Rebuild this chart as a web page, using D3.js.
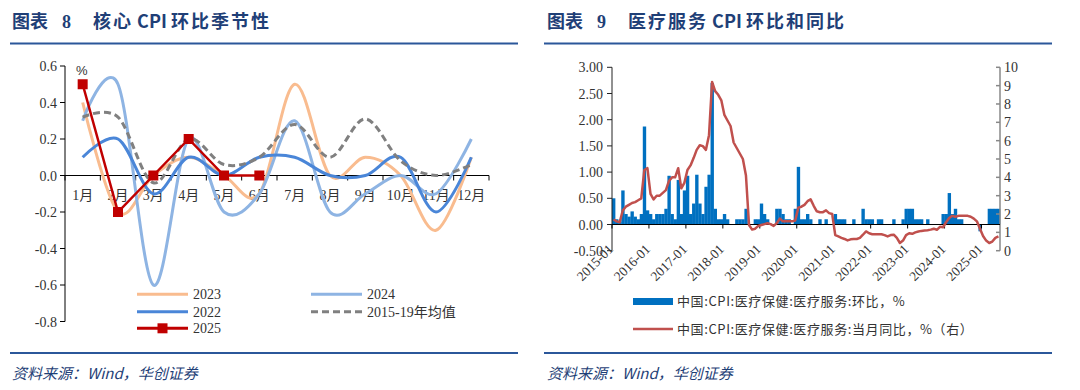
<!DOCTYPE html>
<html><head><meta charset="utf-8">
<script src="https://cdn.jsdelivr.net/npm/d3@7"></script>
<style>body{margin:0;background:#fff;} svg{display:block}</style>
</head><body>
<svg id="c" width="1080" height="390"></svg>
<script>
// ---------- Left chart data: core CPI MoM seasonality ----------
const months = ["1月","2月","3月","4月","5月","6月","7月","8月","9月","10月","11月","12月"];
const s2023 = [0.4,-0.2,0.0,0.1,0.0,-0.1,0.5,0.0,0.1,0.0,-0.3,0.1];
const s2024 = [0.3,0.5,-0.6,0.2,-0.2,-0.1,0.3,-0.2,-0.1,0.0,-0.1,0.2];
const s2022 = [0.1,0.2,-0.1,0.1,0.0,0.1,0.1,0.0,0.0,0.1,-0.2,0.1];
const avg1519 = [0.32,0.32,-0.04,0.2,0.06,0.1,0.28,0.1,0.31,0.08,0.0,0.06];
const s2025 = [0.5,-0.2,0.0,0.2,0.0,0.0];
const leftTicks = [0.6,0.4,0.2,0.0,-0.2,-0.4,-0.6,-0.8];

// ---------- Right chart data: medical services CPI ----------
const startYear = 2015, nMonths = 126; // 2015-01 .. 2025-06
const dates = [];
for (let i = 0; i < nMonths; i++) {
  const yy = startYear + Math.floor(i / 12), mm = (i % 12) + 1;
  dates.push(yy + "-" + (mm < 10 ? "0" + mm : mm));
}
const momBars = [
  0.5,0.1,0.05,0.65,0.2,0.15,0.25,0.15,0.1,0.2,1.87,0.27,
  0.2,0.1,0.2,0.2,0.2,0.3,0.93,0.2,0.1,0.85,0.2,0.65,
  0.93,0.2,0.4,0.95,0.4,0.2,0.72,0.95,2.7,0.3,0.1,0.1,
  0.2,0.1,0,0,0.1,0.1,0.1,0.3,0,0,0.1,0.1,
  0.4,0.2,0.1,0,0,0.3,0.3,0.2,0.1,0.1,0,0.3,
  1.1,0.1,0.1,0.2,0.1,0,0,0.1,0,0.1,0,0,
  0.2,0.1,0.1,0.1,0,0,0.1,0,0,0.3,0.1,0.1,
  0.1,0,0.1,0.1,0,0,0,0.1,0,0,0.1,0.3,
  0.3,0.3,0.1,0.1,0.1,0,0.1,0,0,0,0,0.2,
  0.2,0.6,0.2,0.3,0.1,0.1,0,0,0,0,0,-0.13,
  0,0,0.3,0.3,0.3,0.3
];
const yoyLine = [
  1.7,1.6,1.55,2.2,2.4,2.5,2.6,2.65,2.75,2.85,4.4,4.5,
  3.1,2.8,3.0,3.0,3.15,3.3,3.8,4.0,4.0,4.5,3.4,3.7,
  4.4,4.65,5.05,5.5,5.75,5.7,5.5,6.3,9.2,8.7,8.5,8.2,
  7.4,7.1,6.8,5.9,5.6,5.3,5.0,4.1,1.4,1.15,1.2,1.35,
  1.4,1.45,1.5,1.45,1.35,1.5,1.75,1.6,1.6,1.6,1.6,1.65,
  2.35,2.4,2.5,2.7,2.8,2.45,2.15,2.1,2.1,2.2,2.05,2.0,
  0.85,0.78,0.7,0.64,0.56,0.62,0.64,0.64,0.7,0.87,1.05,0.95,
  0.9,0.9,0.9,0.9,0.85,0.78,0.85,0.87,0.7,0.42,0.55,0.85,
  0.95,0.92,1.0,1.05,1.08,1.1,1.12,1.15,1.2,1.14,1.3,1.28,
  1.55,1.78,1.9,1.85,1.9,1.9,1.9,1.9,1.85,1.75,1.6,1.2,
  0.8,0.55,0.42,0.5,0.7,0.78
];
const yearTicks = ["2015-01","2016-01","2017-01","2018-01","2019-01","2020-01","2021-01","2022-01","2023-01","2024-01","2025-01"];
const leftRTicks = [3.0,2.5,2.0,1.5,1.0,0.5,0.0,-0.5];
const rightRTicks = [0,1,2,3,4,5,6,7,8,9,10];

// ---------- Styles ----------
const serif = "'Liberation Serif','Times New Roman','Noto Sans CJK SC',serif";
const cjk = "'Noto Sans CJK SC','Noto Sans',sans-serif";
const navy = "#1F3F77";
const sepColor = "#2B579A";
const txt = "#333";

const svg = d3.select("#c");

// ---------- Titles, separators, sources ----------
function header(x0, num, parts) {
  const t = svg.append("text").attr("x", x0).attr("y", 27.5)
    .attr("font-family", cjk).attr("font-weight", 700).attr("font-size", 18)
    .attr("fill", navy);
  t.append("tspan").text("图表");
  t.append("tspan").attr("x", x0 + 50).attr("font-family", serif).text(num);
  t.append("tspan").attr("x", x0 + 81).attr("letter-spacing", 2).text(parts[0]);
  t.append("tspan").attr("letter-spacing", 0).text(" CPI ");
  t.append("tspan").attr("letter-spacing", 2).text(parts[1]);
}
header(12, "8", ["核心", "环比季节性"]);
header(547, "9", ["医疗服务", "环比和同比"]);
[[10, 518], [544, 1052]].forEach(([a, b]) => {
  svg.append("line").attr("x1", a).attr("x2", b).attr("y1", 43.5).attr("y2", 43.5)
    .attr("stroke", sepColor).attr("stroke-width", 2);
  svg.append("line").attr("x1", a).attr("x2", b).attr("y1", 353).attr("y2", 353)
    .attr("stroke", sepColor).attr("stroke-width", 2);
});
[12, 547].forEach(x => {
  svg.append("text").attr("x", x).attr("y", 379).attr("font-family", cjk)
    .attr("font-style", "italic").attr("font-size", 15).attr("fill", navy)
    .text("资料来源：Wind，华创证券");
});

// ---------- Left chart ----------
const L = svg.append("g");
const xL = d3.scaleBand(months, [65, 489]);
const yL = d3.scaleLinear([-0.8, 0.6], [321.5, 66]);
const cx = (m) => xL(m) + xL.bandwidth() / 2;

// y axis
L.append("line").attr("x1", 65).attr("x2", 65).attr("y1", yL(0.6)).attr("y2", yL(-0.8))
  .attr("stroke", "#000").attr("stroke-width", 1);
L.selectAll(".ytk").data(leftTicks).join("line")
  .attr("x1", 60).attr("x2", 65).attr("y1", d => yL(d)).attr("y2", d => yL(d))
  .attr("stroke", "#000");
L.selectAll(".ylb").data(leftTicks).join("text")
  .attr("x", 57).attr("y", d => yL(d) + 5).attr("text-anchor", "end")
  .attr("font-family", serif).attr("font-size", 14).attr("fill", txt)
  .text(d => d.toFixed(1));
// x axis at 0
const y0L = yL(0);
L.append("line").attr("x1", 65).attr("x2", 489).attr("y1", y0L).attr("y2", y0L)
  .attr("stroke", "#000");
const bounds = months.map(m => xL(m)).concat([xL.range()[1]]);
L.selectAll(".xtk").data(bounds).join("line")
  .attr("x1", d => d).attr("x2", d => d).attr("y1", y0L).attr("y2", y0L + 5)
  .attr("stroke", "#000");
L.selectAll(".xlb").data(months).join("text")
  .attr("x", d => cx(d)).attr("y", y0L + 24).attr("text-anchor", "middle")
  .attr("font-family", serif).attr("font-size", 14).attr("fill", txt)
  .text(d => d);
L.append("text").attr("x", 76).attr("y", 75).attr("font-family", "'Liberation Sans',sans-serif")
  .attr("font-size", 13).attr("fill", txt).text("%");

const smooth = d3.line().x((d, i) => cx(months[i])).y(d => yL(d)).curve(d3.curveCatmullRom.alpha(0));
const seriesDefs = [
  {data: s2023, color: "#F9BC8F", dash: null, w: 3},
  {data: s2024, color: "#8EB4E3", dash: null, w: 3},
  {data: s2022, color: "#4A86D8", dash: null, w: 3},
  {data: avg1519, color: "#808080", dash: "7,4", w: 3}
];
seriesDefs.forEach(s => {
  L.append("path").attr("d", smooth(s.data)).attr("fill", "none")
    .attr("stroke", s.color).attr("stroke-width", s.w)
    .attr("stroke-dasharray", s.dash);
});
const straight = d3.line().x((d, i) => cx(months[i])).y(d => yL(d));
L.append("path").attr("d", straight(s2025)).attr("fill", "none")
  .attr("stroke", "#C00000").attr("stroke-width", 2.5);
L.selectAll(".mk").data(s2025).join("rect")
  .attr("x", (d, i) => cx(months[i]) - 5).attr("y", d => yL(d) - 5)
  .attr("width", 10).attr("height", 10).attr("fill", "#C00000");

// left legend
const legL = [
  {name: "2023", color: "#F9BC8F", x: 137, y: 294.3},
  {name: "2024", color: "#8EB4E3", x: 311, y: 294.3},
  {name: "2022", color: "#4A86D8", x: 137, y: 311.7},
  {name: "2015-19年均值", color: "#808080", x: 311, y: 311.7, dash: "7,4"},
  {name: "2025", color: "#C00000", x: 137, y: 328.3, marker: true}
];
legL.forEach(d => {
  L.append("line").attr("x1", d.x).attr("x2", d.x + 51).attr("y1", d.y).attr("y2", d.y)
    .attr("stroke", d.color).attr("stroke-width", 3).attr("stroke-dasharray", d.dash || null);
  if (d.marker) L.append("rect").attr("x", d.x + 20.5).attr("y", d.y - 5).attr("width", 10)
    .attr("height", 10).attr("fill", d.color);
  L.append("text").attr("x", d.x + 56).attr("y", d.y + 5).attr("font-family", serif)
    .attr("font-size", 14).attr("fill", txt).text(d.name);
});

// ---------- Right chart ----------
const R = svg.append("g");
const xR = d3.scaleBand(dates, [612, 1000]);
const yRL = d3.scaleLinear([-0.5, 3], [250.7, 67.3]);
const yRR = d3.scaleLinear([0, 10], [250.7, 67.3]);
const bw = xR.bandwidth();

R.selectAll(".bar").data(momBars).join("rect")
  .attr("x", (d, i) => xR(dates[i])).attr("width", bw + 0.3)
  .attr("y", d => yRL(Math.max(0, d))).attr("height", d => Math.abs(yRL(d) - yRL(0)))
  .attr("fill", "#0070C0");

// left axis
R.append("line").attr("x1", 612).attr("x2", 612).attr("y1", yRL(3)).attr("y2", yRL(-0.5))
  .attr("stroke", "#222");
R.selectAll(".lt").data(leftRTicks).join("line")
  .attr("x1", 607).attr("x2", 612).attr("y1", d => yRL(d)).attr("y2", d => yRL(d)).attr("stroke", "#222");
R.selectAll(".ll").data(leftRTicks).join("text")
  .attr("x", 603).attr("y", d => yRL(d) + 5).attr("text-anchor", "end")
  .attr("font-family", serif).attr("font-size", 14).attr("fill", txt)
  .text(d => d.toFixed(2));
// right axis
R.append("line").attr("x1", 1000).attr("x2", 1000).attr("y1", yRR(10)).attr("y2", yRR(0))
  .attr("stroke", "#888").attr("stroke-width", 1.5);
R.selectAll(".rt").data(rightRTicks).join("line")
  .attr("x1", 996).attr("x2", 1000).attr("y1", d => yRR(d)).attr("y2", d => yRR(d))
  .attr("stroke", "#888").attr("stroke-width", 1.5);
R.selectAll(".rl").data(rightRTicks).join("text")
  .attr("x", 1004).attr("y", d => yRR(d) + 5)
  .attr("font-family", serif).attr("font-size", 14).attr("fill", txt)
  .text(d => d);
// zero line + year ticks
const z = yRL(0);
R.append("line").attr("x1", 612).attr("x2", 1000).attr("y1", z).attr("y2", z).attr("stroke", "#000");
R.selectAll(".yt").data(yearTicks).join("line")
  .attr("x1", d => xR(d)).attr("x2", d => xR(d)).attr("y1", z).attr("y2", z + 4).attr("stroke", "#000");
R.selectAll(".yl").data(yearTicks).join("text")
  .attr("transform", d => `translate(${xR(d) + 2},250) rotate(-45)`)
  .attr("text-anchor", "end").attr("font-family", serif).attr("font-size", 13.5)
  .attr("fill", txt).text(d => d);

// yoy line
const yoy = d3.line().x((d, i) => xR(dates[i]) + bw / 2).y(d => yRR(d));
R.append("path").attr("d", yoy(yoyLine)).attr("fill", "none")
  .attr("stroke", "#C0504D").attr("stroke-width", 2.5).attr("stroke-linejoin", "round");

// right legend
R.append("rect").attr("x", 633).attr("y", 298).attr("width", 40).attr("height", 7).attr("fill", "#0070C0");
R.append("text").attr("x", 677).attr("y", 306).attr("font-family", cjk).attr("font-size", 13)
  .attr("letter-spacing", 0.6).attr("fill", txt).text("中国:CPI:医疗保健:医疗服务:环比，%");
R.append("line").attr("x1", 633).attr("x2", 673).attr("y1", 329).attr("y2", 329)
  .attr("stroke", "#C0504D").attr("stroke-width", 2.5);
R.append("text").attr("x", 677).attr("y", 333.5).attr("font-family", cjk).attr("font-size", 13)
  .attr("letter-spacing", 0.6).attr("fill", txt).text("中国:CPI:医疗保健:医疗服务:当月同比，%（右）");
</script>
</body></html>
